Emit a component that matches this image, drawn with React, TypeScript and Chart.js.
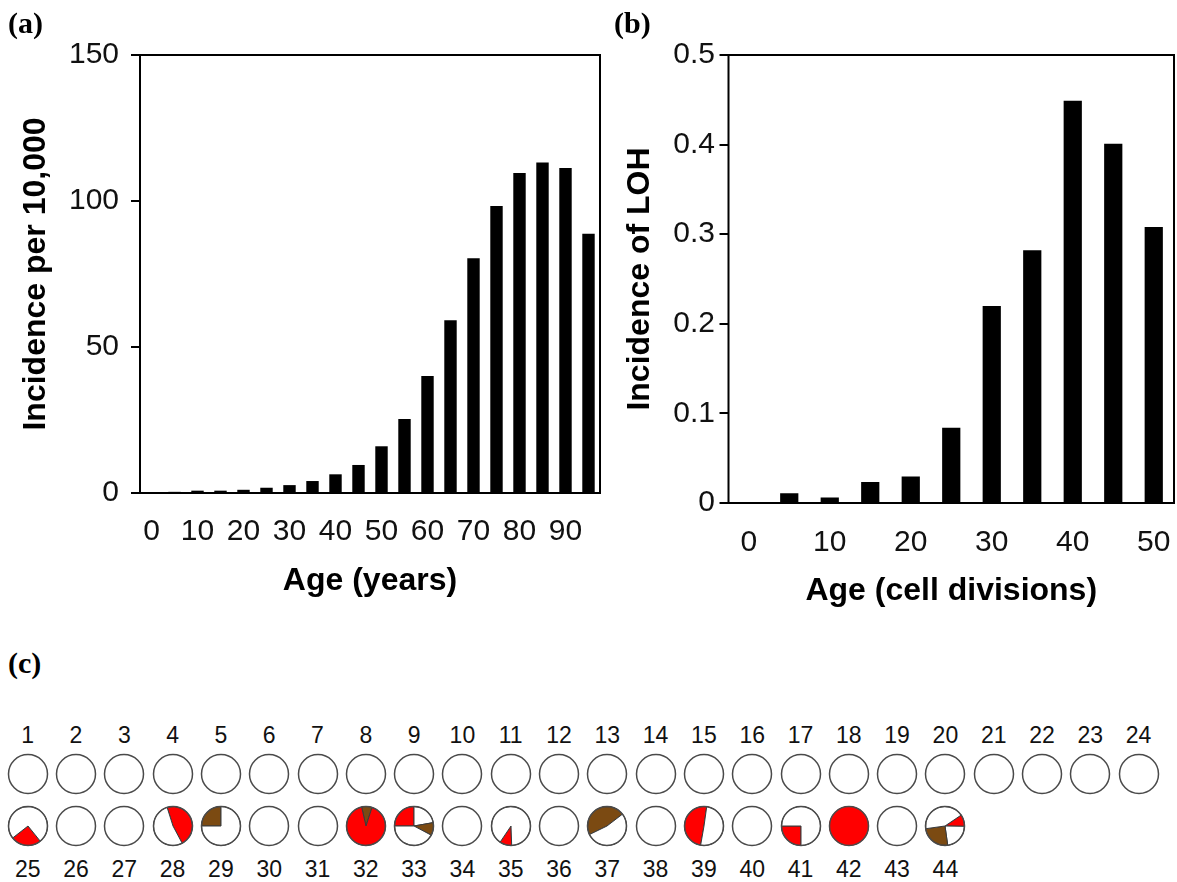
import React, { useEffect, useRef } from 'react';
import { Chart, registerables } from 'chart.js';

Chart.register(...registerables);

// ---------- data ----------
const ageYears = ['0', '5', '10', '15', '20', '25', '30', '35', '40', '45', '50', '55', '60', '65', '70', '75', '80', '85', '90', '95'];
const incidencePer10000 = [0, 0.4, 0.8, 0.8, 1.1, 1.8, 2.7, 4.1, 6.4, 9.6, 16.0, 25.3, 40.1, 59.2, 80.4, 98.3, 109.6, 113.2, 111.3, 88.8];

const ageCellDivisions = ['0', '5', '10', '15', '20', '25', '30', '35', '40', '45', '50'];
const lohIncidence = [0, 0.011, 0.006, 0.0235, 0.0297, 0.084, 0.22, 0.282, 0.449, 0.401, 0.308];

const sampleLabels = [
  '1', '2', '3', '4', '5', '6', '7', '8', '9', '10', '11', '12', '13', '14', '15', '16', '17', '18', '19', '20', '21', '22', '23', '24',
  '25', '26', '27', '28', '29', '30', '31', '32', '33', '34', '35', '36', '37', '38', '39', '40', '41', '42', '43', '44',
];
// start angle of first slice (degrees clockwise from 12 o'clock)
const pieStartDeg = [
  0, 0, 0, 0, 0, 0, 0, 0, 0, 0, 0, 0, 0, 0, 0, 0, 0, 0, 0, 0, 0, 0, 0, 0,
  141, 0, 0, 342.5, 270, 0, 0, 347, 270, 0, 178, 0, 244, 0, 190, 0, 180, 0, 0, 56,
];
// slice sizes in degrees
const pieSliceDeg: number[][] = [
  [360], [360], [360], [360], [360], [360], [360], [360], [360], [360], [360], [360],
  [360], [360], [360], [360], [360], [360], [360], [360], [360], [360], [360], [360],
  [91, 269], [360], [360], [169.5, 190.5], [90, 270], [360], [360], [31, 329], [90, 80, 38, 152], [360],
  [36, 324], [360], [168.5, 191.5], [360], [178, 182], [360], [90, 270], [360], [360], [35, 81, 90, 154],
];
// slice kinds: n = none, r = red class, b = brown class
const pieSliceKind: string[][] = [
  ['n'], ['n'], ['n'], ['n'], ['n'], ['n'], ['n'], ['n'], ['n'], ['n'], ['n'], ['n'],
  ['n'], ['n'], ['n'], ['n'], ['n'], ['n'], ['n'], ['n'], ['n'], ['n'], ['n'], ['n'],
  ['r', 'n'], ['n'], ['n'], ['r', 'n'], ['b', 'n'], ['n'], ['n'], ['b', 'r'], ['r', 'n', 'b', 'n'], ['n'],
  ['r', 'n'], ['n'], ['b', 'n'], ['n'], ['r', 'n'], ['n'], ['r', 'n'], ['r'], ['n'], ['r', 'n', 'b', 'n'],
];

// ---------- styles ----------
const SANS = '"Liberation Sans", Arial, Helvetica, sans-serif';
const SERIF = '"Liberation Serif", "Times New Roman", serif';
const PIE_COLORS: Record<string, string> = { n: '#ffffff', r: '#ff0000', b: '#7b4a12' };

Chart.defaults.font.family = SANS;

const framePlugin = {
  id: 'frame',
  afterDraw(chart: any) {
    const { ctx, chartArea } = chart;
    ctx.save();
    ctx.strokeStyle = '#000';
    ctx.lineWidth = 2;
    ctx.strokeRect(chartArea.left, chartArea.top, chartArea.right - chartArea.left, chartArea.bottom - chartArea.top);
    ctx.restore();
  },
};

const outlinePlugin = {
  id: 'outline',
  afterDatasetsDraw(chart: any) {
    const arc = chart.getDatasetMeta(0).data[0];
    if (!arc) return;
    const { x, y, outerRadius } = arc.getProps(['x', 'y', 'outerRadius'], true);
    const ctx = chart.ctx;
    ctx.save();
    ctx.beginPath();
    ctx.arc(x, y, outerRadius, 0, Math.PI * 2);
    ctx.lineWidth = 1.5;
    ctx.strokeStyle = '#4a4a4a';
    ctx.stroke();
    ctx.restore();
  },
};

type BarOpts = {
  labels: string[];
  values: number[];
  yMax: number;
  yStep: number;
  yTitle: string;
  xTitle: string;
  yWidth: number;
  xHeight: number;
  yTickPad: number;
  yTitlePad: number;
  xTickLen: number;
  xTitlePad: number;
  barPct: number;
  padRight: number;
};

function barConfig(o: BarOpts): any {
  return {
    type: 'bar',
    data: {
      labels: o.labels,
      datasets: [
        {
          data: o.values,
          backgroundColor: '#000',
          borderWidth: 0,
          barPercentage: o.barPct,
          categoryPercentage: 1,
        },
      ],
    },
    options: {
      animation: false,
      responsive: false,
      events: [],
      layout: { padding: { top: 55, left: 0, right: o.padRight, bottom: 0 } },
      plugins: { legend: { display: false }, tooltip: { enabled: false } },
      scales: {
        x: {
          afterFit: (s: any) => {
            s.height = o.xHeight;
          },
          grid: { display: true, drawOnChartArea: false, drawTicks: true, tickLength: o.xTickLen, color: 'rgba(0,0,0,0)' },
          border: { display: false },
          ticks: {
            autoSkip: false,
            maxRotation: 0,
            minRotation: 0,
            padding: 0,
            color: '#111',
            font: { size: 30 },
            callback: (_v: any, i: number) => (i % 2 === 0 ? o.labels[i] : ''),
          },
          title: {
            display: true,
            text: o.xTitle,
            color: '#000',
            font: { size: 32, weight: 'bold' },
            padding: { top: 0, bottom: o.xTitlePad },
          },
        },
        y: {
          min: 0,
          max: o.yMax,
          afterFit: (s: any) => {
            s.width = o.yWidth;
          },
          grid: { drawOnChartArea: false, drawTicks: true, tickLength: 9, color: '#000', lineWidth: 2 },
          border: { display: false },
          ticks: { stepSize: o.yStep, padding: o.yTickPad, color: '#111', font: { size: 30 } },
          title: {
            display: true,
            text: o.yTitle,
            color: '#000',
            font: { size: 32, weight: 'bold' },
            padding: { top: o.yTitlePad, bottom: 0 },
          },
        },
      },
    },
    plugins: [framePlugin],
  };
}

function BarPanel(props: { opts: BarOpts; left: number; width: number; height: number }) {
  const ref = useRef<HTMLCanvasElement | null>(null);
  useEffect(() => {
    if (!ref.current) return;
    const chart = new Chart(ref.current, barConfig(props.opts));
    return () => chart.destroy();
  }, []);
  return (
    <canvas
      ref={ref}
      width={props.width}
      height={props.height}
      style={{ position: 'absolute', left: props.left, top: 0, width: props.width, height: props.height }}
    />
  );
}

const PIE_CANVAS = 42;
const COL0 = 27.7;
const COL_PITCH = 48.3;
const ROW_Y = [773.5, 826];

function PieGrid() {
  const refs = useRef<(HTMLCanvasElement | null)[]>([]);
  useEffect(() => {
    const charts: Chart[] = [];
    sampleLabels.forEach((_lab, i) => {
      const cv = refs.current[i];
      if (!cv) return;
      const kinds = pieSliceKind[i];
      const single = kinds.length === 1;
      charts.push(
        new Chart(cv, {
          type: 'pie',
          data: {
            labels: kinds,
            datasets: [
              {
                data: pieSliceDeg[i],
                backgroundColor: kinds.map((k) => PIE_COLORS[k]),
                borderColor: single ? PIE_COLORS[kinds[0]] : '#3a3a3a',
                borderWidth: 1,
              },
            ],
          },
          options: {
            animation: false,
            responsive: false,
            events: [],
            rotation: pieStartDeg[i],
            layout: { padding: 1 },
            plugins: { legend: { display: false }, tooltip: { enabled: false } },
          },
          plugins: [outlinePlugin],
        } as any)
      );
    });
    return () => charts.forEach((c) => c.destroy());
  }, []);

  return (
    <>
      {sampleLabels.map((lab, i) => {
        const row = i < 24 ? 0 : 1;
        const col = i < 24 ? i : i - 24;
        const cx = COL0 + COL_PITCH * col;
        const cy = ROW_Y[row];
        const labelTop = row === 0 ? 724 : 858;
        return (
          <React.Fragment key={lab}>
            <canvas
              ref={(el) => {
                refs.current[i] = el;
              }}
              width={PIE_CANVAS}
              height={PIE_CANVAS}
              style={{
                position: 'absolute',
                left: cx - PIE_CANVAS / 2,
                top: cy - PIE_CANVAS / 2,
                width: PIE_CANVAS,
                height: PIE_CANVAS,
              }}
            />
            <div
              style={{
                position: 'absolute',
                left: cx - 24,
                top: labelTop,
                width: 48,
                textAlign: 'center',
                fontFamily: SANS,
                fontSize: 23,
                lineHeight: '23px',
                color: '#111',
              }}
            >
              {lab}
            </div>
          </React.Fragment>
        );
      })}
    </>
  );
}

const panelLabel: React.CSSProperties = {
  position: 'absolute',
  fontFamily: SERIF,
  fontWeight: 'bold',
  fontSize: 30,
  lineHeight: '30px',
  color: '#000',
};

export default function App() {
  return (
    <div
      style={{
        position: 'absolute',
        left: 0,
        top: 0,
        width: 1177,
        height: 882,
        background: '#fff',
        overflow: 'hidden',
      }}
    >
      <BarPanel
        left={0}
        width={612}
        height={640}
        opts={{
          labels: ageYears,
          values: incidencePer10000,
          yMax: 150,
          yStep: 50,
          yTitle: 'Incidence per 10,000',
          xTitle: 'Age (years)',
          yWidth: 140,
          xHeight: 147,
          yTickPad: 12,
          yTitlePad: 17,
          xTickLen: 21,
          xTitlePad: 40,
          barPct: 0.54,
          padRight: 12,
        }}
      />
      <BarPanel
        left={600}
        width={577}
        height={640}
        opts={{
          labels: ageCellDivisions,
          values: lohIncidence,
          yMax: 0.5,
          yStep: 0.1,
          yTitle: 'Incidence of LOH',
          xTitle: 'Age (cell divisions)',
          yWidth: 128.5,
          xHeight: 137,
          yTickPad: 4.5,
          yTitlePad: 21,
          xTickLen: 22,
          xTitlePad: 30,
          barPct: 0.45,
          padRight: 3,
        }}
      />
      <div style={{ ...panelLabel, left: 8, top: 8 }}>(a)</div>
      <div style={{ ...panelLabel, left: 614, top: 8 }}>(b)</div>
      <div style={{ ...panelLabel, left: 8, top: 648 }}>(c)</div>
      <PieGrid />
    </div>
  );
}
